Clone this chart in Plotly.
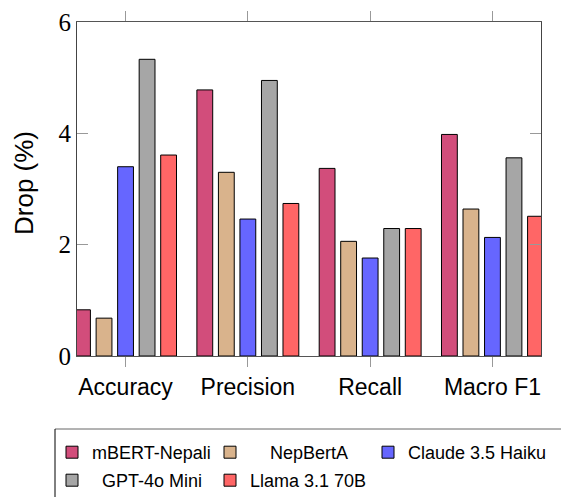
import plotly.graph_objects as go

categories = ["Accuracy", "Precision", "Recall", "Macro F1"]
models = ["mBERT-Nepali", "NepBertA", "Claude 3.5 Haiku", "GPT-4o Mini", "Llama 3.1 70B"]
legend_labels = ["mBERT-Nepali", "\u00a0\u00a0\u00a0\u00a0NepBertA", "Claude 3.5 Haiku",
                 "\u00a0\u00a0GPT-4o Mini", "Llama 3.1 70B"]
mbert = [0.83, 4.78, 3.37, 3.98]
nepberta = [0.68, 3.30, 2.06, 2.64]
claude = [3.40, 2.46, 1.76, 2.13]
gpt4o = [5.33, 4.95, 2.29, 3.56]
llama = [3.61, 2.74, 2.29, 2.51]
series = [mbert, nepberta, claude, gpt4o, llama]
colors = ["#D24D7B", "#D9B38C", "#6666FF", "#A6A6A6", "#FF6666"]
legend_ids = ["legend", "legend", "legend", "legend2", "legend2"]
legend_widths = [113, 113, 0, 113, 113]
y_ticks = [0, 2, 4, 6]

fig = go.Figure()
for name, lab, vals, col, lg, lw in zip(models, legend_labels, series, colors, legend_ids, legend_widths):
    fig.add_trace(go.Bar(
        x=categories, y=vals, name=lab, legend=lg,
        legendwidth=lw if lw else None,
        marker=dict(color=col, line=dict(color="black", width=1)),
    ))

W, H = 561, 497
L, R, T, B = 77, 20, 22, 141
pw, ph = W - L - R, H - T - B


def py(pix):
    return (H - B - pix) / ph


def px(pix):
    return (pix - L) / pw


legend_common = dict(
    orientation="h", xanchor="left", yanchor="top",
    font=dict(family="Liberation Sans", size=18, color="black"),
    bgcolor="rgba(0,0,0,0)", borderwidth=0, traceorder="normal",
)
fig.update_layout(
    width=W, height=H,
    margin=dict(l=L, r=R, t=T, b=B, autoexpand=False),
    barmode="group", bargap=0.12, bargroupgap=0.265,
    plot_bgcolor="white", paper_bgcolor="white",
    showlegend=True,
    legend=dict(x=px(52), y=py(434), **legend_common),
    legend2=dict(x=px(52), y=py(462), **legend_common),
    font=dict(family="Liberation Sans", color="black"),
)
fig.update_xaxes(
    type="category", range=[-0.397, 3.397],
    showline=True, linecolor="#555", linewidth=1, mirror="ticks",
    ticks="outside", ticklen=10, tickcolor="#999", tickwidth=1,
    tickfont=dict(family="Liberation Sans", size=23, color="black"),
    showgrid=False, zeroline=False,
)
fig.update_yaxes(
    range=[0, 6], tickvals=y_ticks, ticktext=[str(v) for v in y_ticks],
    showline=True, linecolor="#444", linewidth=1, mirror="ticks",
    ticks="inside", ticklen=11, tickcolor="#999", tickwidth=1,
    tickfont=dict(family="Liberation Serif", size=25, color="black"),
    showgrid=False, zeroline=False,
)
fig.add_annotation(
    text="Drop (%)", textangle=-90, xref="paper", yref="paper",
    x=px(24), y=py(183), xanchor="center", yanchor="middle",
    showarrow=False, font=dict(family="Liberation Sans", size=26, color="black"),
)
# legend frame lines (top and left visible in reference)
fig.add_shape(type="line", xref="paper", yref="paper",
              x0=px(55), x1=px(W), y0=py(429), y1=py(429),
              line=dict(color="#666", width=1))
fig.add_shape(type="line", xref="paper", yref="paper",
              x0=px(55), x1=px(55), y0=py(429), y1=py(H),
              line=dict(color="black", width=1))

fig.write_html("out.html", config={"displayModeBar": False},
               post_script="document.body.style.margin='0';document.body.style.overflow='hidden';")
